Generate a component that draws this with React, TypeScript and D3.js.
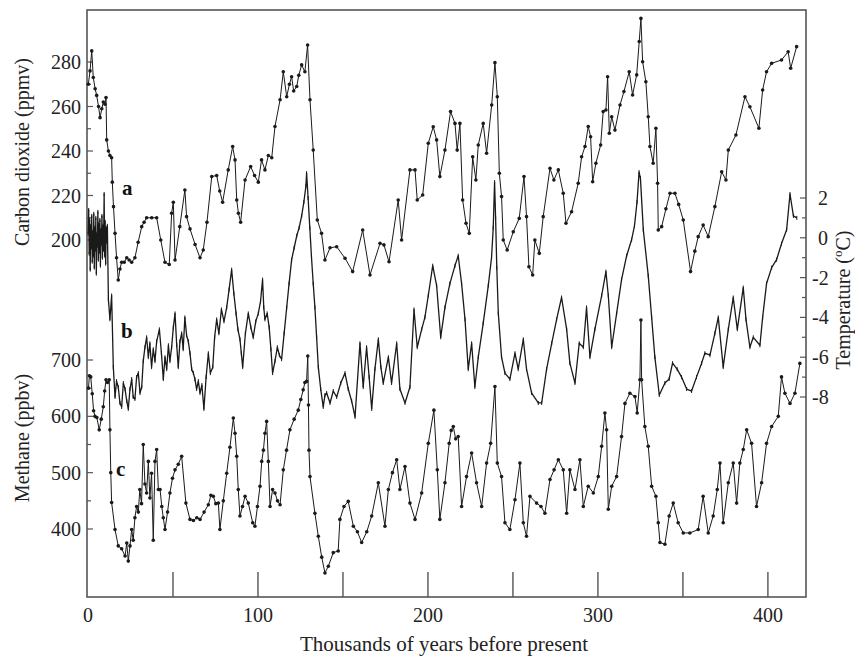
import React from "react";
import * as d3 from "d3";

// a: carbon dioxide (ppmv) vs age (kyr BP)
const co2Age = [0.2, 1.2, 2.2, 3.1, 4.2, 5.1, 6.2, 7.1, 8.1, 9.0, 10.0, 10.6, 11.0, 12.0, 12.9, 13.9, 14.3, 15.0, 15.9, 16.8, 17.8, 18.8, 19.8, 21.3, 22.8, 24.2, 25.7, 27.6, 29.5, 31.6, 33.0, 34.5, 37.5, 40.4, 42.8, 45.3, 47.8, 49.2, 50.2, 51.2, 54, 57, 58, 60, 63, 65.9, 67.8, 70, 72.8, 75.7, 77.5, 79.2, 82.5, 85.1, 86.5, 87.5, 88.5, 89.8, 92.4, 95.7, 98, 100.2, 102.1, 104.1, 106.1, 108.1, 110, 113, 114.9, 116.9, 118.5, 119.8, 121, 122.8, 124, 125.7, 127.6, 129.2, 130.6, 132.5, 134.9, 137.4, 139.4, 142.4, 146.3, 151.2, 155.7, 161.6, 165.9, 171.8, 174.1, 177.1, 182.5, 184.5, 189.4, 192.4, 193.7, 196.9, 200.2, 203.1, 205.1, 207, 210, 213.3, 215.9, 217.2, 218.8, 220.4, 222.4, 224.3, 226.3, 228.2, 229.6, 232.5, 234.5, 237.5, 239.4, 240.8, 242, 243.3, 244.3, 246.6, 250.2, 253.7, 256.5, 258, 259.4, 261.6, 262.9, 265.5, 267.8, 271.8, 274.1, 276.7, 279.6, 281.2, 284.5, 288.4, 290.4, 292.4, 294.3, 295.7, 296.9, 298.8, 301.6, 303.1, 304.7, 305.7, 306.7, 308.1, 310, 313, 315.3, 318.4, 320.4, 322.8, 324.3, 325.3, 326.3, 328.2, 329.6, 330.6, 332.5, 334.1, 335.1, 335.5, 337.5, 340, 342.4, 345.3, 347.5, 350.2, 354.5, 357, 359, 361.9, 364.9, 368.8, 372.8, 375.3, 376.7, 381.2, 386.5, 389.4, 394.7, 396.9, 399.2, 402.2, 408, 411.9, 413.4, 416.9];
const co2Ppmv = [270, 276, 285, 273, 268, 265, 260, 255, 259, 262, 261, 264, 245, 240, 238, 237, 226, 215, 203, 192, 182, 187, 190, 190, 192, 191, 190, 192, 199, 206, 208, 210, 210, 210, 200, 190, 189, 212, 217, 191, 206, 222.5, 210.5, 205, 198, 192, 195.5, 208, 228.5, 229, 222, 217, 231.5, 242, 236, 218, 212, 208, 227, 233, 229, 226, 236, 231.5, 238, 237, 251, 263, 275.6, 264.4, 270, 273.4, 267, 269, 274, 278.7, 275.6, 287.6, 263, 240.4, 209, 203, 191, 196.5, 197, 191.8, 185.8, 204.5, 184.3, 198.5, 197.8, 190.2, 218, 200, 231.5, 231.5, 218, 220.2, 243.5, 250.9, 245, 228.5, 240.4, 257.7, 252.4, 240.4, 252.4, 218, 207.5, 203, 237.4, 227, 242.7, 252.4, 239, 260.7, 279.7, 264.4, 230, 219.5, 200, 195.5, 203.7, 209.7, 228.5, 210.5, 188, 184.3, 200, 194, 210.5, 232.2, 227, 231.5, 221, 207.5, 212.7, 225.5, 237.4, 242, 251, 246.4, 226.2, 234.5, 242.7, 257.7, 258.4, 273.4, 248, 255.4, 249.4, 260.7, 266.7, 275.6, 265.2, 274.2, 289.2, 299.6, 280.1, 271.1, 255.4, 242, 234.5, 250.2, 225.5, 204.5, 206, 214, 221, 221, 216, 209, 185.8, 195, 201.5, 206.7, 201.5, 215, 230.7, 227, 240.4, 247.2, 264.4, 259.9, 250.2, 267.4, 275.6, 279.4, 280.9, 284.6, 277.2, 286.9];

// b: temperature change (deg C)
const tempAge = [0.1, 0.4, 0.7, 1.0, 1.3, 1.6, 1.9, 2.2, 2.5, 2.8, 3.1, 3.4, 3.7, 4.0, 4.3, 4.6, 4.9, 5.2, 5.5, 5.8, 6.1, 6.4, 6.7, 7.0, 7.3, 7.6, 7.9, 8.2, 8.5, 8.8, 9.1, 9.5, 9.8, 10.1, 10.4, 10.7, 11.0, 11.4, 12.0, 12.9, 13.9, 14.9, 15.9, 16.8, 17.8, 18.8, 19.8, 20.8, 21.8, 22.8, 23.7, 24.7, 25.7, 26.6, 27.6, 28.6, 29.6, 30.6, 31.6, 32.5, 33.5, 34.5, 35.5, 36.4, 37.4, 38.4, 39.4, 40.4, 42, 43.2, 44.3, 45.3, 46.3, 47.3, 48.2, 49.2, 50.2, 51.2, 52.2, 53.1, 54.1, 55.1, 56, 57, 58, 59, 60, 61, 62, 62.9, 63.9, 64.9, 65.9, 67, 68.2, 69.5, 70.8, 72, 73.4, 74.5, 75.7, 77, 78.5, 80, 81.6, 83, 84.5, 85.8, 87.1, 88.2, 89.4, 90.2, 91, 92.6, 94.3, 95.8, 97.2, 98.7, 100.2, 101.5, 102.7, 103.4, 104.1, 105.4, 106.6, 107.6, 108.6, 110, 111.4, 112.6, 113.9, 115.4, 116.9, 118.3, 119.8, 121.3, 122.8, 124.2, 125.7, 127, 128.2, 128.6, 129.5, 130.5, 131.5, 132.5, 133.5, 134.5, 135.5, 136.9, 138.4, 139.4, 140.4, 142.4, 144.3, 146.3, 148.7, 151.2, 153.1, 155.1, 157.1, 160, 161.9, 163.9, 165.4, 166.9, 168.8, 170.8, 172.3, 173.7, 176.7, 178.6, 181.6, 183.5, 186.5, 189.4, 191.8, 193.7, 196.3, 198.2, 200.2, 202.8, 205.1, 207.5, 210, 212.9, 215.9, 217.8, 219.8, 221.8, 223.7, 225.7, 227.6, 229.6, 232.5, 235.5, 237.4, 238.4, 239.2, 239.8, 240.5, 241.4, 243.3, 245.3, 248.2, 251.2, 253.1, 256.1, 258, 261, 264.9, 266.9, 269.8, 272.8, 275.7, 278.6, 281.6, 283.5, 286.5, 289, 291.4, 293.3, 295.3, 298.2, 302.2, 304.7, 306.1, 308.1, 311, 313.9, 316.9, 319.8, 321.5, 323, 324.2, 325.0, 326.7, 329.6, 331.6, 333.5, 336.1, 339.4, 341.9, 343.9, 346.6, 349.2, 352.2, 355.1, 358, 361, 362.9, 365.9, 368.8, 370.8, 373.7, 376.7, 379.6, 382, 385.5, 387.1, 389.4, 391.4, 395.3, 396.9, 399.2, 402.2, 405.1, 408, 411, 413, 415, 417];
const tempC = [0.2, 1.4, -0.8, 0.9, -1.6, 0.6, -0.5, 1.1, -1.2, 0.3, -0.9, 1.2, -1.5, 0.5, -0.6, 1.0, -1.8, 0.2, -0.4, 1.3, -1.1, 0.7, -0.7, 0.9, -1.4, 0.4, -0.3, 1.1, -1.0, 0.6, -0.6, 2.2, -0.9, 0.8, -1.3, 0.5, -0.2, 0.6, -3.1, -4.1, -2.9, -6.5, -8, -7.2, -7.5, -8.3, -8.5, -7.3, -7.6, -8.2, -8.6, -7.6, -7.1, -8.0, -8.1, -7.0, -6.8, -7.8, -7.5, -6.2, -5.5, -5, -6.0, -5.3, -6.5, -5.6, -6.2, -5.2, -4.6, -5.8, -7.1, -6.0, -6.6, -5.4, -6.2, -5.5, -4.5, -3.8, -5.4, -6.5, -5.2, -4.8, -5.6, -4, -4.9, -5.2, -5.8, -6.6, -6.8, -7.1, -7.6, -7.2, -7.8, -7.4, -8.6, -7.0, -5.8, -6.8, -6.5, -5.0, -4.1, -4.8, -3.6, -4.2, -3.5, -2.6, -1.6, -2.8, -3.8, -4.6, -5.1, -5.8, -6.5, -4.8, -3.8, -4.5, -5, -4.2, -3.8, -3.2, -2.1, -3.5, -4.1, -3.8, -4.5, -5.6, -6.8, -6.2, -5.5, -5.9, -6.1, -4.8, -3.5, -2.3, -1.1, -0.5, 0.1, 0.5, 1.1, 1.8, 2.6, 3.25, 2.0, 0.5, -1.0, -2.3, -3.5, -5, -6.5, -7.6, -8.5, -7.9, -7.8, -8.3, -7.7, -8, -7.3, -6.8, -7.6, -8.2, -9, -5.3, -7.5, -5.5, -7.0, -8.6, -6.6, -5.1, -6.5, -7.3, -6, -7.3, -5.3, -7.6, -8.3, -7.5, -3.6, -5.5, -4.6, -4, -2.9, -1.4, -2.4, -5, -3.5, -2.3, -1.4, -0.9, -2.3, -4.1, -6.6, -5.3, -7.5, -6, -4.3, -2.4, -1.0, 0.5, 2.8, 1.0, -1.5, -3.8, -6, -6.8, -7.1, -5.8, -6.6, -5.1, -6.6, -7.8, -8.3, -8.3, -6.6, -5.3, -4.1, -3, -4.6, -6.3, -7.3, -5.3, -5.5, -3.5, -6, -4.6, -2.9, -1.7, -2.9, -5.5, -3.8, -2.1, -0.9, -0.1, 0.6, 1.8, 3.3, 3.0, 0.4, -1.9, -4, -6, -7.9, -7.3, -7.1, -6.3, -6.6, -7, -7.6, -7.7, -7, -6.3, -5.8, -5.9, -4.8, -4, -6.5, -4.6, -3, -4.6, -2.5, -4.1, -5.5, -5, -5.4, -4, -2.3, -1.5, -1.1, -0.3, 0.4, 2.2, 1.1, 1.0];

// c: methane (ppbv)
const ch4Age = [0.3, 0.8, 1.6, 2.5, 3.3, 4.1, 5.2, 6.6, 7.8, 9, 9.8, 10.6, 11.5, 12.5, 12.9, 13.4, 13.9, 15.9, 17.8, 19.8, 21.8, 22.8, 23.7, 24.7, 25.7, 26.6, 27.6, 28.6, 29.6, 30.5, 31.5, 32.5, 33.5, 34.5, 35.5, 36.4, 37.4, 38.4, 39.4, 40.4, 41.4, 42.4, 43.4, 44.3, 45.3, 46.8, 48.2, 49.7, 51.2, 53.1, 55.1, 57.6, 60, 62, 64, 65.9, 68.3, 70.8, 72.3, 73.7, 75.2, 76.7, 77.6, 79.6, 81.6, 83.5, 85.5, 86.5, 87.5, 88.4, 89.4, 90.9, 92.4, 94.3, 96.9, 98.2, 99.7, 101.2, 102.2, 103.2, 104.1, 105.1, 106.1, 107.1, 108.6, 110, 111.5, 113, 114.9, 116.8, 118.8, 121.3, 123.7, 125.2, 126.6, 127.6, 128.6, 129.3, 129.7, 130.0, 130.6, 133.5, 135.5, 137.5, 139.4, 141.4, 144.3, 147.2, 148.2, 150.6, 153.1, 156.1, 158.5, 161, 164, 166.9, 170.8, 174.7, 176.7, 179.1, 181.6, 183.5, 186.5, 189.4, 192.4, 196.3, 200.2, 203.5, 205.5, 207, 210, 212.5, 213.7, 214.9, 216.3, 217.8, 219.8, 222.7, 225.7, 228.6, 231.6, 234.5, 236.9, 239.4, 240.8, 243.3, 245.3, 248.2, 251.2, 254.1, 256.1, 258, 260, 263.9, 266.5, 268.8, 271.8, 274.2, 276.7, 279.6, 281.6, 283.5, 286.5, 289.4, 291.4, 294.3, 297.3, 300.2, 302.2, 304.1, 305.1, 306.1, 308.1, 311, 313.9, 315.9, 318.8, 321.8, 323.1, 324.7, 325.3, 325.7, 327.6, 329.6, 331.6, 334.1, 335.5, 336.5, 339.4, 341.9, 344.3, 347.2, 350.2, 354.1, 359, 361.9, 364.9, 367.8, 370.2, 371.8, 373.7, 376.7, 379.6, 381.6, 383.5, 385.5, 387.5, 390.4, 393.3, 396.3, 399.2, 402.2, 406.1, 408, 410, 413, 415.9, 418.8];
const ch4Ppbv = [650, 672, 670, 640, 610, 600, 598, 576, 595, 617, 645, 665, 660, 665, 576, 500, 447, 399, 370, 365, 352, 375, 343, 370, 399, 380, 420, 440, 430, 470, 445, 550, 480, 464, 520, 455, 499, 380, 520, 541, 470, 470, 440, 420, 399, 430, 464, 490, 505, 515, 529, 446, 417, 415, 420, 417, 430, 443, 460, 458, 445, 446, 399, 450, 499, 545, 597, 570, 529, 470, 423, 440, 458, 446, 411, 405, 440, 476, 520, 540, 570, 591, 520, 440, 470, 464, 450, 443, 505, 540, 576, 595, 611, 630, 647, 660, 662, 707, 620, 540, 493, 428, 387, 350, 322, 334, 358, 361, 417, 440, 449, 405, 395, 376, 395, 423, 482, 405, 470, 500, 523, 470, 511, 446, 417, 464, 552, 611, 505, 417, 482, 552, 575, 582, 560, 564, 440, 493, 535, 482, 440, 517, 552, 653, 517, 493, 411, 399, 452, 517, 411, 387, 458, 446, 440, 428, 488, 505, 523, 505, 428, 505, 470, 523, 440, 476, 464, 493, 547, 606, 576, 435, 476, 493, 564, 623, 641, 635, 606, 665, 771, 665, 582, 547, 476, 458, 411, 376, 373, 423, 446, 411, 393, 393, 399, 458, 393, 423, 470, 517, 411, 482, 517, 446, 517, 541, 576, 552, 440, 482, 552, 582, 600, 670, 641, 623, 641, 694];

const xTicks = [50, 100, 150, 200, 250, 300, 350, 400];
const xLabels = [0, 100, 200, 300, 400];
const co2Ticks = [200, 210, 220, 230, 240, 250, 260, 270, 280];
const co2Labels = [200, 220, 240, 260, 280];
const ch4Ticks = [400, 450, 500, 550, 600, 650, 700];
const ch4Labels = [400, 500, 600, 700];
const tempTicks = [-8, -7, -6, -5, -4, -3, -2, -1, 0, 1, 2];
const tempLabels = [-8, -6, -4, -2, 0, 2];

const FONT = "'Liberation Serif', 'Times New Roman', serif";
const INK = "#1a1a1a";
const FRAME = "#555";

export default function App() {
  const left = 88;
  const right = 806;
  const top = 10;
  const bottom = 597;

  const x = d3.scaleLinear().domain([0, 423]).range([left, 807]);
  const yCo2 = d3.scaleLinear().domain([200, 280]).range([240, 62]);
  const yTemp = d3.scaleLinear().domain([-8, 2]).range([397, 198]);
  const yCh4 = d3.scaleLinear().domain([400, 700]).range([529, 360]);

  const co2Data = co2Age.map((a, i) => [a, co2Ppmv[i]] as [number, number]);
  const tempData = tempAge.map((a, i) => [a, tempC[i]] as [number, number]);
  const ch4Data = ch4Age.map((a, i) => [a, ch4Ppbv[i]] as [number, number]);

  const co2Line = d3.line<[number, number]>().x((d) => x(d[0])).y((d) => yCo2(d[1]));
  const tempLine = d3.line<[number, number]>().x((d) => x(d[0])).y((d) => yTemp(d[1]));
  const ch4Line = d3.line<[number, number]>().x((d) => x(d[0])).y((d) => yCh4(d[1]));

  return (
    <svg
      width={855}
      height={662}
      style={{ position: "absolute", left: 0, top: 0, background: "#fff" }}
      fontFamily={FONT}
    >
      <rect x={0} y={0} width={855} height={662} fill="#fff" />

      {/* frame */}
      <rect
        x={left - 1}
        y={top}
        width={right - left + 1}
        height={bottom - top}
        fill="none"
        stroke={FRAME}
        strokeWidth={1.6}
      />

      {/* x axis ticks */}
      {xTicks.map((t) => (
        <line key={t} x1={x(t)} x2={x(t)} y1={bottom} y2={bottom - 25} stroke={FRAME} strokeWidth={1.4} />
      ))}
      {xLabels.map((t) => (
        <text key={t} x={x(t)} y={622} textAnchor="middle" fontSize={20} fill="#222">
          {t}
        </text>
      ))}
      <text x={444} y={651} textAnchor="middle" fontSize={21} fill="#222">
        Thousands of years before present
      </text>

      {/* CO2 axis */}
      {co2Ticks.map((t) => (
        <line
          key={t}
          x1={left - 1}
          x2={left - 1 + (t % 20 === 0 ? 6 : 4)}
          y1={yCo2(t)}
          y2={yCo2(t)}
          stroke={FRAME}
          strokeWidth={1.2}
        />
      ))}
      {co2Labels.map((t) => (
        <text key={t} x={81} y={yCo2(t) + 7} textAnchor="end" fontSize={20} fill="#222">
          {t}
        </text>
      ))}
      <text transform="translate(29,152) rotate(-90)" textAnchor="middle" fontSize={20} fill="#222">
        Carbon dioxide (ppmv)
      </text>

      {/* CH4 axis */}
      {ch4Ticks.map((t) => (
        <line
          key={t}
          x1={left - 1}
          x2={left - 1 + (t % 100 === 0 ? 6 : 4)}
          y1={yCh4(t)}
          y2={yCh4(t)}
          stroke={FRAME}
          strokeWidth={1.2}
        />
      ))}
      {ch4Labels.map((t) => (
        <text key={t} x={81} y={yCh4(t) + 7} textAnchor="end" fontSize={20} fill="#222">
          {t}
        </text>
      ))}
      <text transform="translate(29,438) rotate(-90)" textAnchor="middle" fontSize={20} fill="#222">
        Methane (ppbv)
      </text>

      {/* temperature axis */}
      {tempTicks.map((t) => (
        <line
          key={t}
          x1={right}
          x2={right - (t % 2 === 0 ? 6 : 4)}
          y1={yTemp(t)}
          y2={yTemp(t)}
          stroke={FRAME}
          strokeWidth={1.2}
        />
      ))}
      {tempLabels.map((t) => (
        <text key={t} x={t < 0 ? 812 : 818} y={yTemp(t) + 7} textAnchor="start" fontSize={20} fill="#222">
          {t < 0 ? `-${Math.abs(t)}` : t}
        </text>
      ))}
      <text transform="translate(850,300) rotate(-90)" textAnchor="middle" fontSize={20} fill="#222">
        Temperature (<tspan dy={-8} fontSize={13}>o</tspan>
        <tspan dy={8}>C)</tspan>
      </text>

      {/* series */}
      <path d={tempLine(tempData) ?? ""} fill="none" stroke={INK} strokeWidth={1.3} strokeLinejoin="round" />
      <path d={co2Line(co2Data) ?? ""} fill="none" stroke={INK} strokeWidth={1} strokeLinejoin="round" />
      <path d={ch4Line(ch4Data) ?? ""} fill="none" stroke={INK} strokeWidth={1} strokeLinejoin="round" />
      {co2Data.map((d, i) => (
        <circle key={`a${i}`} cx={x(d[0])} cy={yCo2(d[1])} r={1.8} fill={INK} />
      ))}
      {ch4Data.map((d, i) => (
        <circle key={`c${i}`} cx={x(d[0])} cy={yCh4(d[1])} r={1.8} fill={INK} />
      ))}
      {tempData.map((d, i) => (
        <line
          key={`b${i}`}
          x1={x(d[0])}
          x2={x(d[0])}
          y1={yTemp(d[1]) - 2}
          y2={yTemp(d[1]) + 2}
          stroke={INK}
          strokeWidth={1}
        />
      ))}

      {/* curve letters */}
      <text x={122} y={195} fontSize={21} fontWeight="bold" fill="#111">a</text>
      <text x={121} y={338} fontSize={21} fontWeight="bold" fill="#111">b</text>
      <text x={116} y={476} fontSize={21} fontWeight="bold" fill="#111">c</text>
    </svg>
  );
}
